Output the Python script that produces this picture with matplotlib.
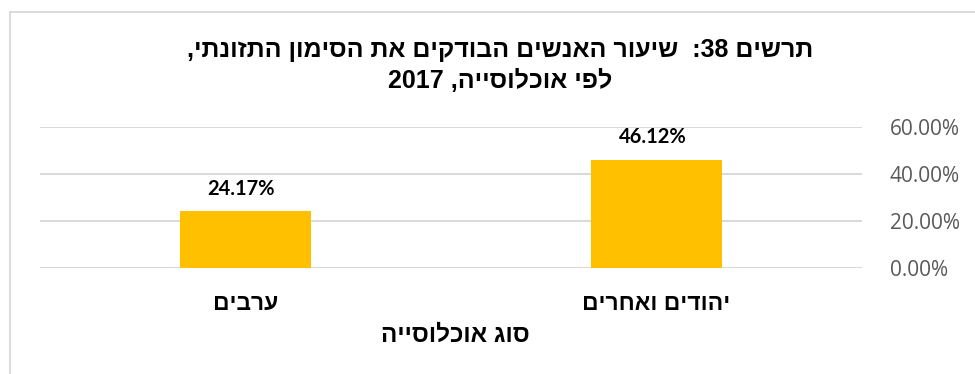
import re
import matplotlib
matplotlib.use("Agg")
import matplotlib.pyplot as plt
from matplotlib.lines import Line2D

# ---- data ----
categories = ["יהודים ואחרים", "ערבים"]   # first category drawn on the right (RTL chart)
values = [46.12, 24.17]
value_labels = ["46.12%", "24.17%"]
yticks = [0, 20, 40, 60]
ytick_labels = ["0.00%", "20.00%", "40.00%", "60.00%"]
title_lines = ["תרשים 38:  שיעור האנשים הבודקים את הסימון התזונתי,", "לפי אוכלוסייה, 2017"]
xlabel = "סוג אוכלוסייה"


def vis(s):
    """Convert logical-order Hebrew text into visual (left-to-right) order."""
    r = s[::-1]
    return re.sub(r"[0-9.%]+", lambda m: m.group(0)[::-1], r)


W, H = 975, 374
fig = plt.figure(figsize=(W / 100, H / 100), dpi=100)
fig.patch.set_facecolor("white")

left, right, top, bottom = 40, 862, 127, 268
ax = fig.add_axes([left / W, (H - bottom) / H, (right - left) / W, (bottom - top) / H])

heb = ["Liberation Sans", "DejaVu Sans"]
bar_color = "#FFC000"
grid_color = "#D9D9D9"

# positions: reversed category order (first category on the right)
n = len(categories)
xpos = [n - 1 - i for i in range(n)]
ax.bar(xpos, values, width=0.32, color=bar_color, zorder=3)
ax.set_xlim(-0.5, n - 0.5)
ax.set_ylim(0, 60)

for y in yticks:
    ax.axhline(y, color=grid_color, lw=1.4, zorder=1)

for sp in ax.spines.values():
    sp.set_visible(False)

ax.yaxis.tick_right()
ax.set_yticks(yticks)
ax.set_yticklabels(ytick_labels, family="Open Sans", fontsize=15, color="#595959", ha="left")
ax.tick_params(axis="y", length=0, pad=20)

ax.set_xticks(xpos)
ax.set_xticklabels([vis(c) for c in categories], family=heb, fontsize=16.5, fontweight="bold", color="#000000")
ax.tick_params(axis="x", length=0, pad=17)

for x, v, lab in zip(xpos, values, value_labels):
    ax.annotate(lab, (x, v), xytext=(-3, 16), textcoords="offset points", ha="center", va="center",
                family="Lato", fontweight="bold", fontsize=14.5, color="#000000")

fig.text(455 / W, 1 - 335 / H, vis(xlabel), ha="center", va="center", family=heb,
         fontsize=17.5, fontweight="bold", color="#000000")

fig.text(500 / W, 1 - 50 / H, vis(title_lines[0]), ha="center", va="center", family=heb,
         fontsize=18, fontweight="bold", color="#000000")
fig.text(500 / W, 1 - 81 / H, vis(title_lines[1]), ha="center", va="center", family=heb,
         fontsize=18, fontweight="bold", color="#000000")

# chart-area border (visible on left and top)
fig.add_artist(Line2D([9.5 / W, 9.5 / W], [0, 1 - 12 / H], transform=fig.transFigure, color=grid_color, lw=1.3))
fig.add_artist(Line2D([9.5 / W, 975 / W], [1 - 12 / H, 1 - 12 / H], transform=fig.transFigure, color=grid_color, lw=1.3))

fig.savefig("out.png", dpi=100, facecolor="white")
